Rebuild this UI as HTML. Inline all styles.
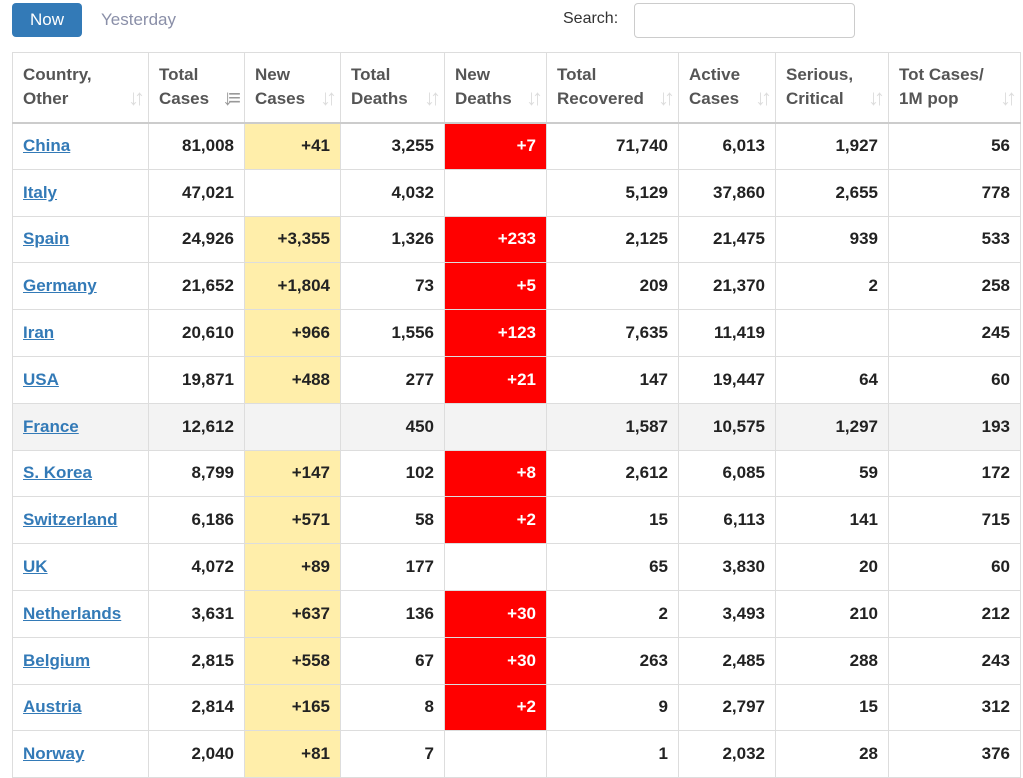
<!DOCTYPE html>
<html><head><meta charset="utf-8"><style>
body{margin:0;width:1023px;height:763px;overflow:hidden;background:#fff;font-family:"Liberation Sans",Arial,sans-serif;}
.btn{position:absolute;left:12px;top:3px;width:70px;height:34px;background:#337ab7;border-radius:4px;color:#fff;font-size:17px;line-height:34px;text-align:center}
.yest{position:absolute;left:101px;top:3px;line-height:34px;font-size:17px;color:#8a8fa8}
.search{position:absolute;left:563px;top:10px;font-size:16px;color:#333}
.inp{position:absolute;left:634px;top:3px;width:219px;height:33px;border:1px solid #ccc;border-radius:4px}
table{position:absolute;left:12px;top:52px;border-collapse:collapse;table-layout:fixed;width:1008px}
td,th{border:1px solid #ddd;padding:0 10px;font-size:17px;font-weight:bold;color:#222;box-sizing:border-box}
th{height:70px;text-align:left;color:#555;line-height:24px;vertical-align:middle;position:relative;border-bottom:2px solid #ccc}
th span{position:absolute;right:8px;bottom:12px;color:#ddd;font-size:22px;letter-spacing:-5px;font-weight:bold}
td{height:46.8px;text-align:right}
td:first-child{text-align:left}
td a{color:#337ab7;text-decoration:underline}
.y{background:#ffeeaa}.r{background:#ff0000;color:#fff}
tr.h td{background:#f3f3f3}
</style></head><body>
<div class="btn">Now</div><div class="yest">Yesterday</div>
<div class="search">Search:</div><div class="inp"></div>
<table>
<colgroup><col style="width:136px"><col style="width:96px"><col style="width:96px"><col style="width:104px"><col style="width:102px"><col style="width:132px"><col style="width:97px"><col style="width:113px"><col style="width:132px"></colgroup>
<tr><th>Country,<br>Other<span>↓↑</span></th><th>Total<br>Cases<span style="color:#999">↓≡</span></th><th>New<br>Cases<span>↓↑</span></th><th>Total<br>Deaths<span>↓↑</span></th><th>New<br>Deaths<span>↓↑</span></th><th>Total<br>Recovered<span>↓↑</span></th><th>Active<br>Cases<span>↓↑</span></th><th>Serious,<br>Critical<span>↓↑</span></th><th>Tot Cases/<br>1M pop<span>↓↑</span></th></tr>
<tr><td><a>China</a></td><td>81,008</td><td class="y">+41</td><td>3,255</td><td class="r">+7</td><td>71,740</td><td>6,013</td><td>1,927</td><td>56</td></tr>
<tr><td><a>Italy</a></td><td>47,021</td><td></td><td>4,032</td><td></td><td>5,129</td><td>37,860</td><td>2,655</td><td>778</td></tr>
<tr><td><a>Spain</a></td><td>24,926</td><td class="y">+3,355</td><td>1,326</td><td class="r">+233</td><td>2,125</td><td>21,475</td><td>939</td><td>533</td></tr>
<tr><td><a>Germany</a></td><td>21,652</td><td class="y">+1,804</td><td>73</td><td class="r">+5</td><td>209</td><td>21,370</td><td>2</td><td>258</td></tr>
<tr><td><a>Iran</a></td><td>20,610</td><td class="y">+966</td><td>1,556</td><td class="r">+123</td><td>7,635</td><td>11,419</td><td></td><td>245</td></tr>
<tr><td><a>USA</a></td><td>19,871</td><td class="y">+488</td><td>277</td><td class="r">+21</td><td>147</td><td>19,447</td><td>64</td><td>60</td></tr>
<tr class="h"><td><a>France</a></td><td>12,612</td><td></td><td>450</td><td></td><td>1,587</td><td>10,575</td><td>1,297</td><td>193</td></tr>
<tr><td><a>S. Korea</a></td><td>8,799</td><td class="y">+147</td><td>102</td><td class="r">+8</td><td>2,612</td><td>6,085</td><td>59</td><td>172</td></tr>
<tr><td><a>Switzerland</a></td><td>6,186</td><td class="y">+571</td><td>58</td><td class="r">+2</td><td>15</td><td>6,113</td><td>141</td><td>715</td></tr>
<tr><td><a>UK</a></td><td>4,072</td><td class="y">+89</td><td>177</td><td></td><td>65</td><td>3,830</td><td>20</td><td>60</td></tr>
<tr><td><a>Netherlands</a></td><td>3,631</td><td class="y">+637</td><td>136</td><td class="r">+30</td><td>2</td><td>3,493</td><td>210</td><td>212</td></tr>
<tr><td><a>Belgium</a></td><td>2,815</td><td class="y">+558</td><td>67</td><td class="r">+30</td><td>263</td><td>2,485</td><td>288</td><td>243</td></tr>
<tr><td><a>Austria</a></td><td>2,814</td><td class="y">+165</td><td>8</td><td class="r">+2</td><td>9</td><td>2,797</td><td>15</td><td>312</td></tr>
<tr><td><a>Norway</a></td><td>2,040</td><td class="y">+81</td><td>7</td><td></td><td>1</td><td>2,032</td><td>28</td><td>376</td></tr>
</table>
</body></html>
